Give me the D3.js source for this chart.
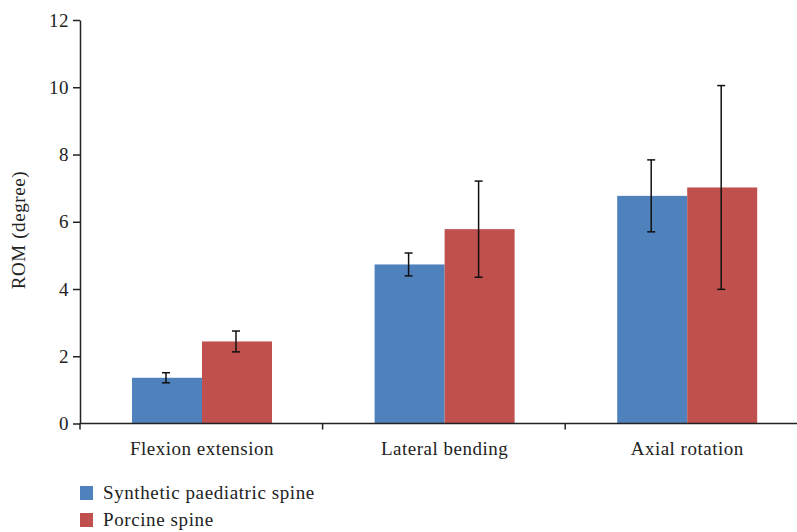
<!DOCTYPE html>
<meta charset="utf-8">
<style>
body { margin: 0; background: #fff; }
svg { font-family: "Liberation Serif", "DejaVu Serif", serif; }
.axis path, .axis line { stroke: #222; stroke-width: 1.5px; }
.axis text { font-family: "Liberation Serif", "DejaVu Serif", serif; font-size: 19px; fill: #222; letter-spacing: 0.5px; }
.lbl { font-size: 19px; fill: #222; letter-spacing: 0.6px; }
</style>
<body>
<script src="https://d3js.org/d3.v7.min.js"></script>
<script>

// data
var categories = ["Flexion extension", "Lateral bending", "Axial rotation"];
var seriesNames = ["Synthetic paediatric spine", "Porcine spine"];
var synthetic = [1.36, 4.73, 6.77];
var syntheticErr = [0.15, 0.34, 1.07];
var porcine = [2.44, 5.78, 7.02];
var porcineErr = [0.31, 1.43, 3.03];
var yTicks = [0, 2, 4, 6, 8, 10, 12];
var colors = ["#4F81BD", "#C0504D"];

var width = 797, height = 532;
var plotLeft = 80, plotTop = 20, plotBottom = 423.5;

var svg = d3.select("body").append("svg")
    .attr("width", width)
    .attr("height", height);

// scales
var x0 = d3.scaleBand().domain(categories).range([plotLeft, plotLeft + 3 * 242.6]);
var x1 = d3.scaleBand().domain(seriesNames).range([52, 192]);
var y = d3.scaleLinear().domain([0, 12]).range([plotBottom, plotTop]);

// bars
var rows = categories.map(function(c, i) {
  return [
    {cat: c, s: seriesNames[0], v: synthetic[i], e: syntheticErr[i], c: colors[0]},
    {cat: c, s: seriesNames[1], v: porcine[i], e: porcineErr[i], c: colors[1]}
  ];
});

var groups = svg.selectAll(".grp")
    .data(rows)
  .enter().append("g")
    .attr("class", "grp")
    .attr("transform", function(d, i) { return "translate(" + x0(categories[i]) + ",0)"; });

groups.selectAll("rect")
    .data(function(d) { return d; })
  .enter().append("rect")
    .attr("x", function(d) { return x1(d.s); })
    .attr("y", function(d) { return y(d.v); })
    .attr("width", x1.bandwidth())
    .attr("height", function(d) { return y(0) - y(d.v); })
    .attr("fill", function(d) { return d.c; });

// error bars
var eb = groups.selectAll(".err")
    .data(function(d) { return d; })
  .enter().append("g")
    .attr("class", "err")
    .attr("stroke", "#111")
    .attr("stroke-width", 1.5);

eb.append("line")
    .attr("x1", function(d) { return x1(d.s) + x1.bandwidth() / 2 - 1; })
    .attr("x2", function(d) { return x1(d.s) + x1.bandwidth() / 2 - 1; })
    .attr("y1", function(d) { return y(d.v + d.e); })
    .attr("y2", function(d) { return y(d.v - d.e); });
eb.selectAll(".cap")
    .data(function(d) { return [d.v + d.e, d.v - d.e].map(function(v) { return {s: d.s, v: v}; }); })
  .enter().append("line")
    .attr("x1", function(d) { return x1(d.s) + x1.bandwidth() / 2 - 5; })
    .attr("x2", function(d) { return x1(d.s) + x1.bandwidth() / 2 + 3; })
    .attr("y1", function(d) { return y(d.v); })
    .attr("y2", function(d) { return y(d.v); });

// y axis
svg.append("g")
    .attr("class", "axis")
    .attr("transform", "translate(" + plotLeft + ",0)")
    .call(d3.axisLeft(y).tickValues(yTicks).tickSize(7).tickSizeOuter(0).tickPadding(4));

// x axis: ticks on category boundaries
var xAxis = svg.append("g")
    .attr("class", "axis")
    .attr("transform", "translate(0," + plotBottom + ")");
xAxis.append("line")
    .attr("x1", plotLeft).attr("x2", width);
xAxis.selectAll(".tk")
    .data(categories)
  .enter().append("line")
    .attr("x1", function(d) { return x0(d); })
    .attr("x2", function(d) { return x0(d); })
    .attr("y1", 0).attr("y2", 6);
xAxis.selectAll("text")
    .data(categories)
  .enter().append("text")
    .attr("x", function(d) { return x0(d) + x1.range()[0] + 70; })
    .attr("y", 31)
    .attr("text-anchor", "middle")
    .text(function(d) { return d; });

// y label
svg.append("text")
    .attr("class", "lbl")
    .attr("transform", "translate(25,230) rotate(-90)")
    .attr("text-anchor", "middle")
    .text("ROM (degree)");

// legend
var legend = svg.selectAll(".leg")
    .data(seriesNames)
  .enter().append("g")
    .attr("class", "leg")
    .attr("transform", function(d, i) { return "translate(80," + (486 + i * 27) + ")"; });
legend.append("rect")
    .attr("width", 13).attr("height", 14)
    .attr("fill", function(d, i) { return colors[i]; });
legend.append("text")
    .attr("class", "lbl")
    .attr("x", 23).attr("y", 13)
    .text(function(d) { return d; });

</script>
</body>
